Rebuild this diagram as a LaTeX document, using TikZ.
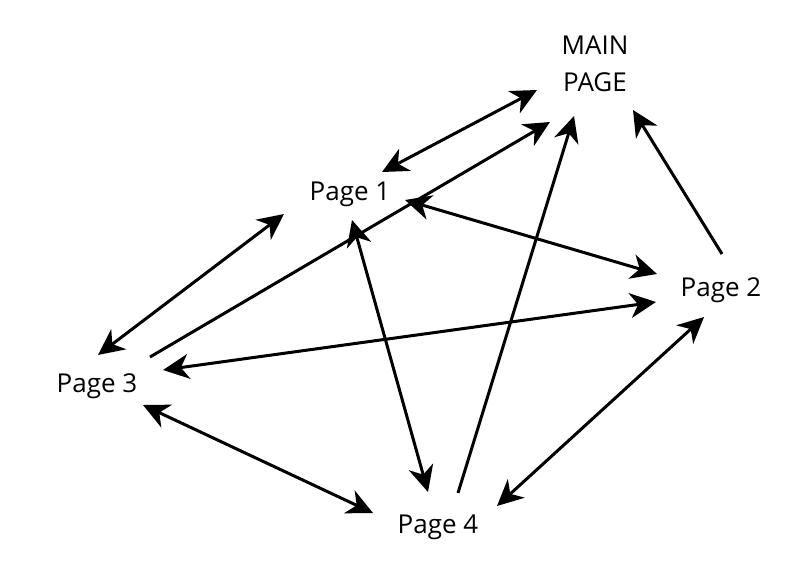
\documentclass[tikz,border=0pt]{standalone}
\usepackage{fontspec}
\setmainfont{Open Sans}
\usetikzlibrary{arrows.meta}
\begin{document}
\begin{tikzpicture}[x=1bp,y=-1bp,
  lbl/.style={font=\fontsize{26bp}{37bp}\selectfont, inner sep=0pt, anchor=base, align=center},
  conn/.style={line width=3bp, -{Stealth[length=26bp,width=25bp,inset=8bp]}},
  bconn/.style={line width=3bp, {Stealth[length=26bp,width=25bp,inset=8bp]}-{Stealth[length=26bp,width=25bp,inset=8bp]}}]
\useasboundingbox[fill=white] (0,0) rectangle (808,580);
\node[lbl] (main) at (595,92) {MAIN\\PAGE};
\node[lbl] (p1) at (350,201) {Page 1};
\node[lbl] (p2) at (721,296) {Page 2};
\node[lbl] (p3) at (97,392) {Page 3};
\node[lbl] (p4) at (438,533) {Page 4};
% endpoints
\coordinate (a1) at (382,172); \coordinate (a2) at (537,90);
\coordinate (b1) at (150,357); \coordinate (b2) at (550,122);
\coordinate (c1) at (458,493); \coordinate (c2) at (574,116);
\coordinate (d1) at (722,254); \coordinate (d2) at (633,110);
\coordinate (e1) at (405,200); \coordinate (e2) at (657,274);
\coordinate (f1) at (98,355); \coordinate (f2) at (284,214);
\coordinate (g1) at (163,370); \coordinate (g2) at (656,302);
\coordinate (h1) at (352,220); \coordinate (h2) at (428,492);
\coordinate (i1) at (143,405); \coordinate (i2) at (373,513);
\coordinate (j1) at (497,506); \coordinate (j2) at (704,317);
\draw[bconn] (a1) -- (a2);
\draw[conn] (b1) -- (b2);
\draw[conn] (c1) -- (c2);
\draw[conn] (d1) -- (d2);
\draw[bconn] (e1) -- (e2);
\draw[bconn] (f1) -- (f2);
\draw[bconn] (g1) -- (g2);
\draw[bconn] (h1) -- (h2);
\draw[bconn] (i1) -- (i2);
\draw[bconn] (j1) -- (j2);
\end{tikzpicture}
\end{document}
